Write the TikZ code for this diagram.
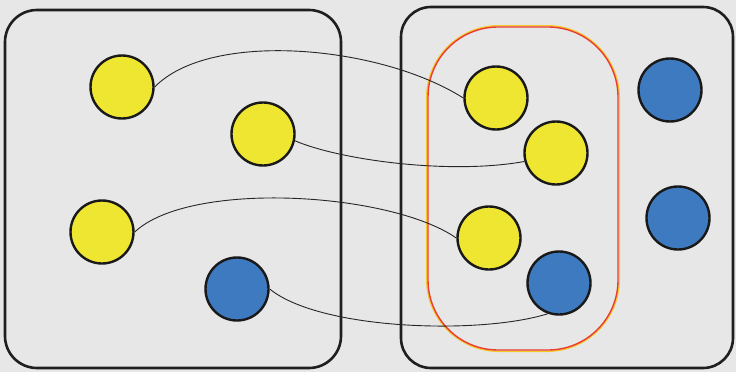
\documentclass[tikz,border=0pt]{standalone}
\begin{document}
\begin{tikzpicture}[x=1pt,y=-1pt,
  setbox/.style={draw=black!88,line width=2.6pt,rounded corners=32pt},
  ycirc/.style={circle,draw=black!90,line width=2.4pt,fill={rgb,255:red,238;green,230;blue,48},minimum size=63pt,inner sep=0pt},
  bcirc/.style={circle,draw=black!90,line width=2.4pt,fill={rgb,255:red,62;green,122;blue,192},minimum size=63pt,inner sep=0pt},
  link/.style={draw=black!85,line width=0.9pt}]
\fill[black!9.5] (0,0) rectangle (736,372);
\useasboundingbox (0,0) rectangle (736,372);
% set boxes
\draw[setbox] (5,10) rectangle (341,368);
\draw[setbox,rounded corners=30pt] (401,7) rectangle (733,368);
% red subset outline
\draw[draw={rgb,255:red,245;green,200;blue,40},line width=1.4pt,rounded corners=72pt] (426.7,25.7) rectangle (619.3,351.3);
\draw[draw={rgb,255:red,235;green,60;blue,50},line width=1.4pt,rounded corners=70pt] (428,27) rectangle (618,350);
% left circles
\node[ycirc] (y1) at (122,87) {};
\node[ycirc] (y2) at (263,134) {};
\node[ycirc] (y3) at (102,232) {};
\node[bcirc] (b1) at (237,289) {};
% right circles
\node[ycirc] (y4) at (496,98) {};
\node[ycirc] (y5) at (556,153) {};
\node[ycirc] (y6) at (489,238) {};
\node[bcirc] (b2) at (559,283) {};
\node[bcirc] (b3) at (670,90) {};
\node[bcirc] (b4) at (678,218) {};
% links
\draw[link] (y1.east) .. controls (210,30) and (380,45) .. (y4.west);
\draw[link] (y2.-12) .. controls (340,160) and (450,175) .. (y5.195);
\draw[link] (y3.east) .. controls (190,180) and (390,192) .. (y6.west);
\draw[link] (b1.east) .. controls (320,330) and (480,335) .. (b2.250);
\end{tikzpicture}
\end{document}
